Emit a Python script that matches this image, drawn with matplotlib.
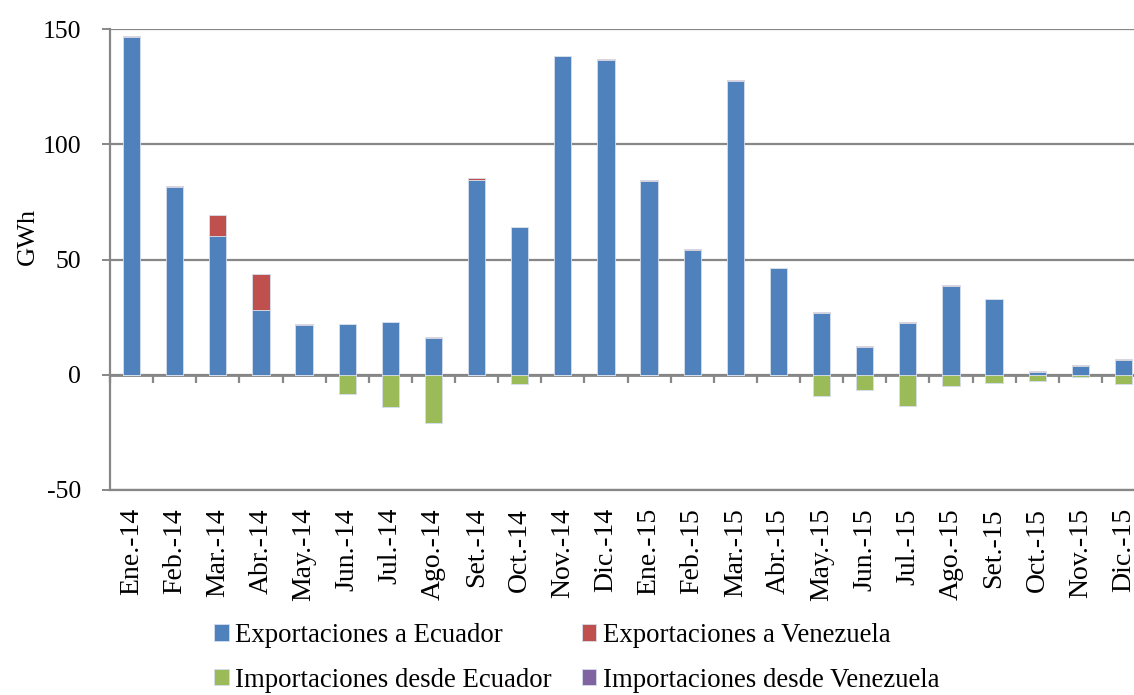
import matplotlib
matplotlib.use("Agg")
import matplotlib.pyplot as plt
import numpy as np

months = ["Ene.-14", "Feb.-14", "Mar.-14", "Abr.-14", "May.-14", "Jun.-14", "Jul.-14", "Ago.-14",
          "Set.-14", "Oct.-14", "Nov.-14", "Dic.-14", "Ene.-15", "Feb.-15", "Mar.-15", "Abr.-15",
          "May.-15", "Jun.-15", "Jul.-15", "Ago.-15", "Set.-15", "Oct.-15", "Nov.-15", "Dic.-15"]
exp_ecuador = [146.5, 81.4, 60.4, 28.2, 21.7, 22.0, 22.7, 16.0, 84.5, 63.9, 138.3, 136.7,
               84.1, 54.3, 127.6, 46.4, 26.9, 11.9, 22.4, 38.3, 32.7, 1.4, 3.9, 6.6]
exp_venezuela = [0.3, 0.4, 8.7, 15.4, 0.3, 0.1, 0.4, 0.3, 0.7, 0.1, 0.2, 0.2,
                 0.3, 0.1, 0.2, 0.1, 0.5, 0.5, 0.6, 0.7, 0.2, 0.3, 0.2, 0.2]
imp_ecuador = [0.0, 0.0, 0.0, 0.0, 0.0, -8.2, -14.0, -20.8, 0.0, -3.9, 0.0, 0.0,
               0.0, 0.0, 0.0, 0.0, -9.2, -6.5, -13.4, -4.9, -3.6, -2.6, -0.9, -4.2]
imp_venezuela = [0.0] * 24
yticks = [-50, 0, 50, 100, 150]

c_blue, c_red, c_green, c_purple = "#4F81BD", "#C0504D", "#9BBB59", "#8064A2"
grid_c = "#878787"
font = ["Liberation Serif", "DejaVu Serif"]
plt.rcParams["font.family"] = font

fig = plt.figure(figsize=(11.34, 6.95), dpi=100)
ax = fig.add_axes([110 / 1134, 1 - 490 / 695, 1035 / 1134, (490 - 29) / 695])

x = np.arange(len(months))
w = 0.4
edge = dict(edgecolor="#d5deec", linewidth=0.6)
b1 = ax.bar(x, exp_ecuador, w, color=c_blue, zorder=3, **edge)
b2 = ax.bar(x, exp_venezuela, w, bottom=exp_ecuador, color=c_red, zorder=3, **edge)
b3 = ax.bar(x, imp_ecuador, w, color=c_green, zorder=3, **edge)
b4 = ax.bar(x, imp_venezuela, w, bottom=imp_ecuador, color=c_purple, zorder=3, **edge)

ax.set_xlim(-0.5, len(months) - 0.5)
ax.set_ylim(-50, 150)
ax.set_yticks(yticks)
ax.set_yticklabels([str(v) for v in yticks], fontsize=18.5)
ax.yaxis.grid(True, color=grid_c, linewidth=1.6, zorder=1)
ax.tick_params(axis="y", direction="out", length=5.8, width=1.4, color=grid_c, pad=15)
ax.set_xticks(x)
ax.set_xticklabels(months, rotation=90, fontsize=20, va="top")
ax.tick_params(axis="x", length=0, pad=13)
for s in ["top", "right"]:
    ax.spines[s].set_visible(False)
ax.spines["left"].set_color(grid_c)
ax.spines["left"].set_linewidth(1.6)
ax.spines["bottom"].set_color(grid_c)
ax.spines["bottom"].set_linewidth(1.6)
ax.set_ylabel("GWh", fontsize=19)
ax.yaxis.set_label_coords(-0.069, 0.55)

# category axis at zero with boundary ticks
sec = ax.secondary_xaxis(50 / 200)
sec.set_xticks(np.arange(len(months) + 1) - 0.5)
sec.set_xticklabels([])
sec.tick_params(axis="x", direction="out", length=6, width=1.6, color=grid_c)
sec.spines["bottom"].set_color(grid_c)
sec.spines["bottom"].set_linewidth(2.0)
sec.spines["bottom"].set_zorder(4)

leg = fig.legend([b1, b3, b2, b4],
                 ["Exportaciones a Ecuador", "Importaciones desde Ecuador",
                  "Exportaciones a Venezuela", "Importaciones desde Venezuela"],
                 ncol=2, loc="upper left", bbox_to_anchor=(214 / 1134, 1 - 623 / 695),
                 frameon=False, fontsize=19.3, handlelength=0.55, handleheight=0.55,
                 handletextpad=0.25, columnspacing=1.1, labelspacing=0.74,
                 borderaxespad=0, borderpad=0)

fig.savefig("out.png", dpi=100)
